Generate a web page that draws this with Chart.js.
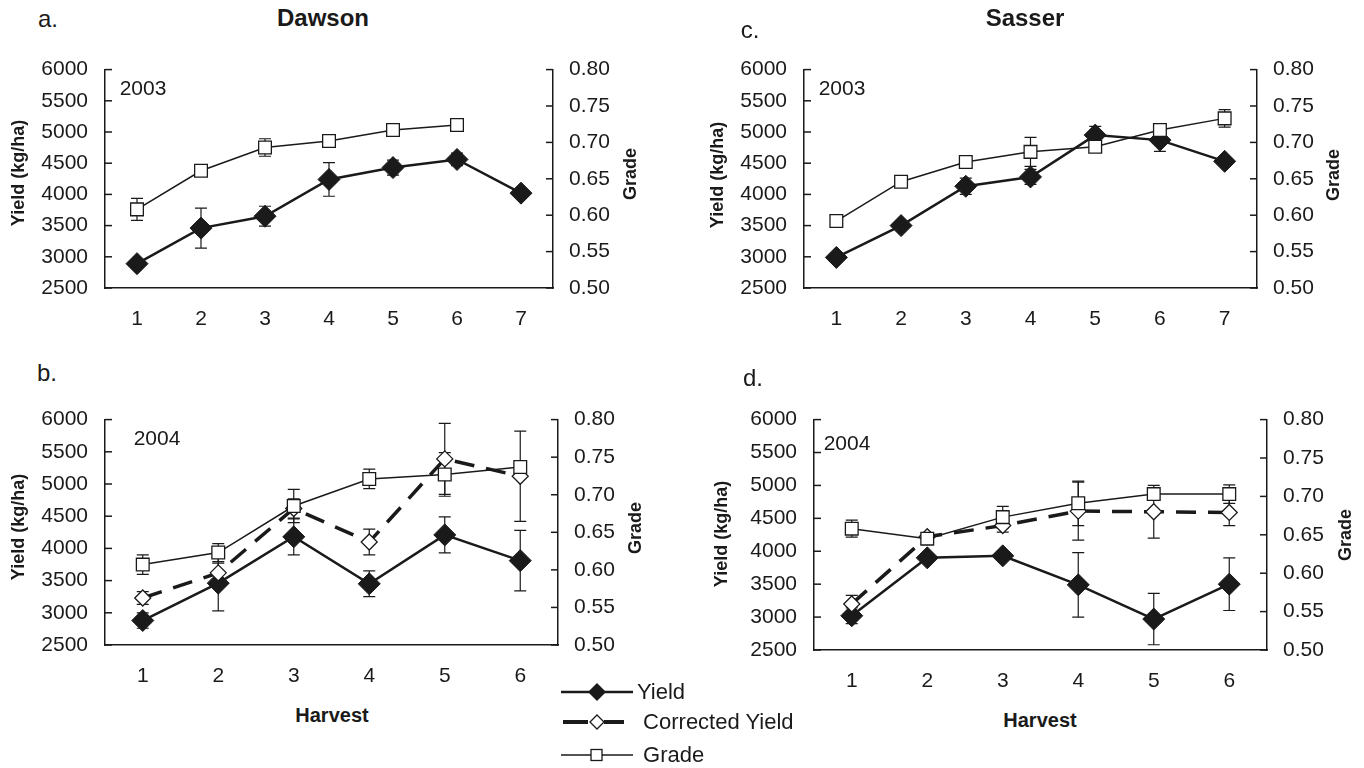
<!DOCTYPE html>
<html>
<head>
<meta charset="utf-8">
<script src="https://cdn.jsdelivr.net/npm/chart.js@4.4.1/dist/chart.umd.min.js"></script>
<style>
  body { margin: 0; background: #fff; font-family: "Liberation Sans", Arial, sans-serif; color: #1a1a1a; }
  #page { position: relative; width: 1364px; height: 768px; overflow: hidden; }
  canvas { position: absolute; }
  .t { position: absolute; transform: translate(-50%, -50%); line-height: 1; white-space: nowrap; }
  .rot { transform: translate(-50%, -50%) rotate(-90deg); }
  .b { font-weight: bold; }
  .row { position: absolute; left: 558px; height: 24px; display: flex; align-items: center; font-size: 22px; }
  .row svg { width: 80px; height: 24px; margin-right: -1px; }
</style>
</head>
<body>
<div id="page">
  <canvas id="panelA"></canvas>
  <canvas id="panelB"></canvas>
  <canvas id="panelC"></canvas>
  <canvas id="panelD"></canvas>

  <div class="t" style="left:48px;top:19px;font-size:24px">a.</div>
  <div class="t b" style="left:323px;top:18px;font-size:24px">Dawson</div>
  <div class="t" style="left:750px;top:30px;font-size:24px">c.</div>
  <div class="t b" style="left:1025px;top:18px;font-size:24px">Sasser</div>
  <div class="t" style="left:47px;top:373px;font-size:24px">b.</div>
  <div class="t" style="left:753px;top:378px;font-size:24px">d.</div>

  <div class="t" style="left:143px;top:87px;font-size:21px">2003</div>
  <div class="t" style="left:842px;top:87px;font-size:21px">2003</div>
  <div class="t" style="left:157px;top:437px;font-size:21px">2004</div>
  <div class="t" style="left:847px;top:442px;font-size:21px">2004</div>

  <div class="t rot b" style="left:18px;top:173px;font-size:18px">Yield (kg/ha)</div>
  <div class="t rot b" style="left:717px;top:175px;font-size:18px">Yield (kg/ha)</div>
  <div class="t rot b" style="left:18px;top:527px;font-size:18px">Yield (kg/ha)</div>
  <div class="t rot b" style="left:721px;top:534px;font-size:18px">Yield (kg/ha)</div>

  <div class="t rot b" style="left:630px;top:174px;font-size:18px">Grade</div>
  <div class="t rot b" style="left:1333px;top:175px;font-size:18px">Grade</div>
  <div class="t rot b" style="left:635px;top:528px;font-size:18px">Grade</div>
  <div class="t rot b" style="left:1345px;top:535px;font-size:18px">Grade</div>

  <div class="t b" style="left:332px;top:715px;font-size:20px">Harvest</div>
  <div class="t b" style="left:1040px;top:720px;font-size:20px">Harvest</div>

  <div class="row" style="top:680px">
    <svg viewBox="0 0 80 24"><line x1="3" y1="12" x2="75" y2="12" stroke="#1a1a1a" stroke-width="2.5"/><polygon points="39,3 48,12 39,21 30,12" fill="#1a1a1a"/></svg>
    <span>Yield</span>
  </div>
  <div class="row" style="top:710px">
    <svg viewBox="0 0 80 24"><line x1="5" y1="12" x2="30" y2="12" stroke="#1a1a1a" stroke-width="4"/><line x1="46" y1="12" x2="66" y2="12" stroke="#1a1a1a" stroke-width="4"/><polygon points="39,5 46,12 39,19 32,12" fill="#fff" stroke="#1a1a1a" stroke-width="1.3"/></svg>
    <span>&nbsp;Corrected Yield</span>
  </div>
  <div class="row" style="top:743px">
    <svg viewBox="0 0 80 24"><line x1="3" y1="12" x2="75" y2="12" stroke="#1a1a1a" stroke-width="1.5"/><rect x="33" y="6.5" width="11" height="11" fill="#fff" stroke="#1a1a1a" stroke-width="1.3"/></svg>
    <span>&nbsp;Grade</span>
  </div>
</div>

<script>
// harvest numbers
const harvests2003 = ["1", "2", "3", "4", "5", "6", "7"];
const harvests2004 = ["1", "2", "3", "4", "5", "6"];

// tick settings
const yieldMin = 2500, yieldMax = 6000, yieldStep = 500;
const gradeMin = 0.5, gradeMax = 0.8, gradeStep = 0.05;

// a. Dawson 2003
const dawson03Yield = [2890, 3460, 3650, 4240, 4430, 4560, 4020];
const dawson03YieldErr = [40, 320, 160, 270, 120, 100, 40];
const dawson03Grade = [0.608, 0.661, 0.693, 0.702, 0.717, 0.724, null];
const dawson03GradeErr = [0.015, 0.005, 0.012, 0.005, 0.004, 0.004, 0];

// c. Sasser 2003
const sasser03Yield = [2990, 3500, 4130, 4280, 4950, 4870, 4530];
const sasser03YieldErr = [30, 40, 130, 120, 140, 180, 30];
const sasser03Grade = [0.592, 0.646, 0.673, 0.687, 0.694, 0.717, 0.733];
const sasser03GradeErr = [0.004, 0.004, 0.004, 0.02, 0.004, 0.004, 0.012];

// b. Dawson 2004
const dawson04Yield = [2880, 3460, 4180, 3450, 4210, 3810];
const dawson04YieldErr = [120, 430, 280, 200, 280, 470];
const dawson04Corrected = [3230, 3620, 4620, 4100, 5390, 5120];
const dawson04CorrectedErr = [100, 150, 150, 200, 550, 700];
const dawson04Grade = [0.607, 0.623, 0.685, 0.721, 0.727, 0.737];
const dawson04GradeErr = [0.013, 0.012, 0.022, 0.013, 0.029, 0.006];

// d. Sasser 2004
const sasser04Yield = [3020, 3900, 3930, 3490, 2970, 3500];
const sasser04YieldErr = [120, 60, 50, 490, 390, 400];
const sasser04Corrected = [3200, 4220, 4390, 4610, 4600, 4590];
const sasser04CorrectedErr = [130, 60, 100, 440, 400, 200];
const sasser04Grade = [0.658, 0.645, 0.673, 0.691, 0.703, 0.703];
const sasser04GradeErr = [0.011, 0.004, 0.014, 0.029, 0.006, 0.012];

const ink = "#1a1a1a";
const fontFamily = "'Liberation Sans', Arial, sans-serif";

// error bars drawn from the dataset's own scale
const errorBars = {
  id: "errorBars",
  beforeDatasetsDraw(chart) {
    const ctx = chart.ctx;
    ctx.save();
    ctx.strokeStyle = ink;
    ctx.lineWidth = 1.2;
    chart.data.datasets.forEach((ds, i) => {
      if (!ds.errorBars) return;
      const meta = chart.getDatasetMeta(i);
      const ys = chart.scales[ds.yAxisID];
      meta.data.forEach((pt, j) => {
        const v = ds.data[j], e = ds.errorBars[j];
        if (v == null || !e) return;
        const top = ys.getPixelForValue(v + e);
        const bot = ys.getPixelForValue(v - e);
        ctx.beginPath();
        ctx.moveTo(pt.x, top); ctx.lineTo(pt.x, bot);
        ctx.moveTo(pt.x - 6, top); ctx.lineTo(pt.x + 6, top);
        ctx.moveTo(pt.x - 6, bot); ctx.lineTo(pt.x + 6, bot);
        ctx.stroke();
      });
    });
    ctx.restore();
  }
};

// tick marks pointing into the plot on both y axes
const innerTicks = {
  id: "innerTicks",
  beforeDatasetsDraw(chart) {
    const { ctx, chartArea: a } = chart;
    ctx.save();
    ctx.strokeStyle = ink;
    ctx.lineWidth = 1.5;
    ["y", "y2"].forEach((id) => {
      const s = chart.scales[id];
      s.ticks.forEach((t, k) => {
        const py = s.getPixelForTick(k);
        ctx.beginPath();
        if (id === "y") { ctx.moveTo(a.left, py); ctx.lineTo(a.left + 7, py); }
        else { ctx.moveTo(a.right - 7, py); ctx.lineTo(a.right, py); }
        ctx.stroke();
      });
    });
    ctx.restore();
  }
};

function yieldSet(data, err) {
  return {
    label: "Yield", data, errorBars: err, yAxisID: "y",
    borderColor: ink, borderWidth: 2.5, backgroundColor: ink,
    pointStyle: "rectRot", pointRadius: 11, pointBorderWidth: 1, pointBackgroundColor: ink
  };
}
function correctedSet(data, err) {
  return {
    label: "Corrected Yield", data, errorBars: err, yAxisID: "y",
    borderColor: ink, borderWidth: 3.5, borderDash: [20, 12],
    pointStyle: "rectRot", pointRadius: 8, pointBorderWidth: 1.3, pointBackgroundColor: "#fff"
  };
}
function gradeSet(data, err) {
  return {
    label: "Grade", data, errorBars: err, yAxisID: "y2",
    borderColor: ink, borderWidth: 1.5,
    pointStyle: "rect", pointRadius: 9, pointBorderWidth: 1.3, pointBackgroundColor: "#fff"
  };
}

function makePanel(id, box, area, labels, datasets) {
  const cv = document.getElementById(id);
  cv.width = box.w;
  cv.height = box.h;
  cv.style.left = box.x + "px";
  cv.style.top = box.y + "px";
  const tickFont = { family: fontFamily, size: 21 };
  new Chart(cv, {
    type: "line",
    data: { labels, datasets },
    options: {
      responsive: false,
      animation: false,
      layout: { padding: { top: area.top - box.y, left: 0, right: 0, bottom: 0 } },
      plugins: { legend: { display: false }, tooltip: { enabled: false } },
      scales: {
        x: {
          offset: true,
          grid: { display: true, drawOnChartArea: false, drawTicks: false },
          border: { color: ink, width: 1.5 },
          ticks: { color: ink, font: tickFont, padding: 19, maxRotation: 0 },
          afterFit: (s) => { s.height = box.y + box.h - area.bottom; }
        },
        y: {
          position: "left", min: yieldMin, max: yieldMax,
          grid: { display: true, drawOnChartArea: false, drawTicks: false },
          border: { color: ink, width: 1.5 },
          ticks: { stepSize: yieldStep, color: ink, font: tickFont, padding: 17, callback: (v) => String(v) },
          afterFit: (s) => { s.width = area.left - box.x; }
        },
        y2: {
          position: "right", min: gradeMin, max: gradeMax,
          grid: { display: true, drawOnChartArea: false, drawTicks: false },
          border: { color: ink, width: 1.5 },
          ticks: { stepSize: gradeStep, color: ink, font: tickFont, padding: 16, callback: (v) => v.toFixed(2) },
          afterFit: (s) => { s.width = box.x + box.w - area.right; }
        }
      }
    },
    plugins: [errorBars, innerTicks]
  });
}

makePanel("panelA", { x: 0, y: 40, w: 660, h: 300 }, { left: 105, top: 60, right: 553, bottom: 288 }, harvests2003, [
  gradeSet(dawson03Grade, dawson03GradeErr),
  yieldSet(dawson03Yield, dawson03YieldErr)
]);

makePanel("panelC", { x: 700, y: 40, w: 664, h: 300 }, { left: 804, top: 60, right: 1257, bottom: 288 }, harvests2003, [
  gradeSet(sasser03Grade, sasser03GradeErr),
  yieldSet(sasser03Yield, sasser03YieldErr)
]);

makePanel("panelB", { x: 0, y: 390, w: 660, h: 310 }, { left: 105, top: 412, right: 558, bottom: 645 }, harvests2004, [
  gradeSet(dawson04Grade, dawson04GradeErr),
  correctedSet(dawson04Corrected, dawson04CorrectedErr),
  yieldSet(dawson04Yield, dawson04YieldErr)
]);

makePanel("panelD", { x: 705, y: 390, w: 659, h: 310 }, { left: 814, top: 415, right: 1267, bottom: 650 }, harvests2004, [
  gradeSet(sasser04Grade, sasser04GradeErr),
  correctedSet(sasser04Corrected, sasser04CorrectedErr),
  yieldSet(sasser04Yield, sasser04YieldErr)
]);
</script>
</body>
</html>
